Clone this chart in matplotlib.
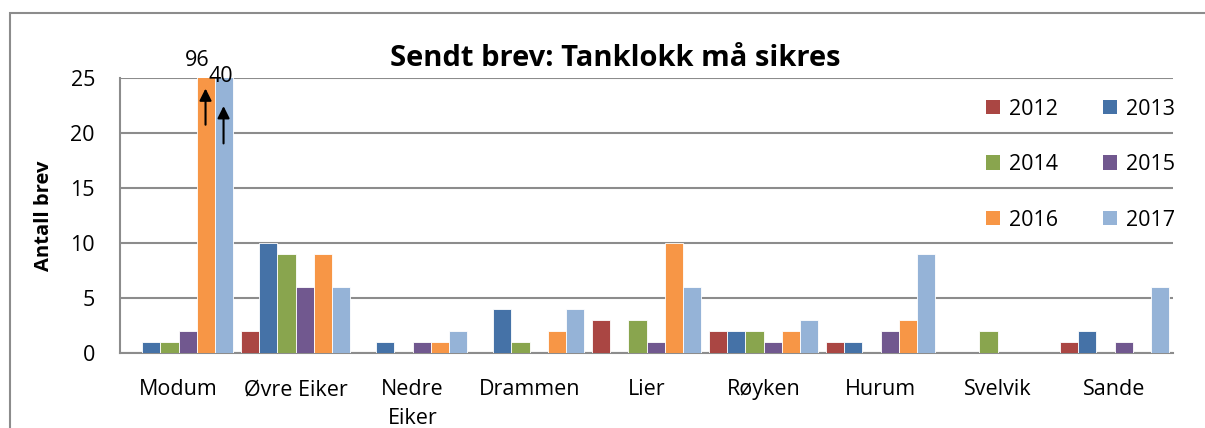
import numpy as np
import matplotlib.pyplot as plt
from matplotlib.patches import Patch, Rectangle

plt.rcParams['font.family'] = ['Open Sans', 'DejaVu Sans']

kommuner = ['Modum', 'Øvre Eiker', 'Nedre\nEiker', 'Drammen', 'Lier',
            'Røyken', 'Hurum', 'Svelvik', 'Sande']
years = ['2012', '2013', '2014', '2015', '2016', '2017']
v2012 = [0, 2, 0, 0, 3, 2, 1, 0, 1]
v2013 = [1, 10, 1, 4, 0, 2, 1, 0, 2]
v2014 = [1, 9, 0, 1, 3, 2, 0, 2, 0]
v2015 = [2, 6, 1, 0, 1, 1, 2, 0, 1]
v2016 = [96, 9, 1, 2, 10, 2, 3, 0, 0]
v2017 = [40, 6, 2, 4, 6, 3, 9, 0, 6]
series = [v2012, v2013, v2014, v2015, v2016, v2017]

colors = {
	'2012': '#AA4643',
	'2013': '#4572A7',
	'2014': '#89A54E',
	'2015': '#71588F',
	'2016': '#F79646',
	'2017': '#95B3D7',
}

fig = plt.figure(figsize=(12.05, 4.28), dpi=100)
ax = fig.add_axes([120/1205, 1-353/428, (1173-120)/1205, (353-78)/428])

# outer chart border
fig.patches.append(Rectangle((10/1205, -0.1), 1.2, 1.1-13/428, transform=fig.transFigure,
                             fill=False, edgecolor='#8c8c8c', linewidth=1.5))

x = np.arange(len(kommuner))
bw = 0.154
for i, (yr, vals) in enumerate(zip(years, series)):
	ax.bar(x + (i-2.5)*bw, vals, width=bw, color=colors[yr], edgecolor='white',
	       linewidth=0.6, zorder=3)

ax.set_xlim(-0.5, len(kommuner)-0.5)
ax.set_ylim(0, 25)
ax.set_yticks(range(0, 26, 5))
ax.yaxis.grid(True, color='#8c8c8c', linewidth=1.5, zorder=0)
ax.set_axisbelow(True)
for s in ['top', 'right']:
	ax.spines[s].set_visible(False)
for s in ['left', 'bottom']:
	ax.spines[s].set_color('#8c8c8c')
	ax.spines[s].set_linewidth(1.5)
ax.tick_params(axis='both', length=0, labelsize=15.5)
ax.tick_params(axis='x', pad=19)
ax.tick_params(axis='y', pad=18)
ax.set_xticks(x)
ax.set_xticklabels(kommuner, linespacing=1.45)
ax.set_ylabel('Antall brev', fontsize=14.5, fontweight='bold', labelpad=12)

# title is centred on the chart frame, not on the plot area
fig.text(615/1205, 1-58/428, 'Sendt brev: Tanklokk må sikres', ha='center', va='center',
         fontsize=21, fontweight='bold')

# cut-off bars: true values and arrows
ax.text(x[0] + 1.5*bw - 0.07, 26.6, '96', ha='center', va='center', fontsize=15.5, clip_on=False)
ax.text(x[0] + 2.5*bw - 0.02, 25.1, '40', ha='center', va='center', fontsize=15.5, clip_on=False)
ax.annotate('', xy=(x[0] + 1.5*bw, 24.3), xytext=(x[0] + 1.5*bw, 20.5),
            arrowprops=dict(arrowstyle='-|>', color='black', lw=1.5, mutation_scale=18), zorder=5)
ax.annotate('', xy=(x[0] + 2.5*bw, 22.7), xytext=(x[0] + 2.5*bw, 18.8),
            arrowprops=dict(arrowstyle='-|>', color='black', lw=1.5, mutation_scale=18), zorder=5)

# legend filled row by row: 2012 2013 / 2014 2015 / 2016 2017
order = [0, 2, 4, 1, 3, 5]
handles = [Patch(facecolor=colors[years[k]], label=years[k]) for k in order]
ax.legend(handles=handles, ncol=2, loc='upper right', bbox_to_anchor=(1.02, 0.995),
          frameon=False, fontsize=15.5, handlelength=0.65, handleheight=0.65,
          handletextpad=0.4, columnspacing=2.1, labelspacing=1.6)

fig.savefig('out.png', dpi=100)
